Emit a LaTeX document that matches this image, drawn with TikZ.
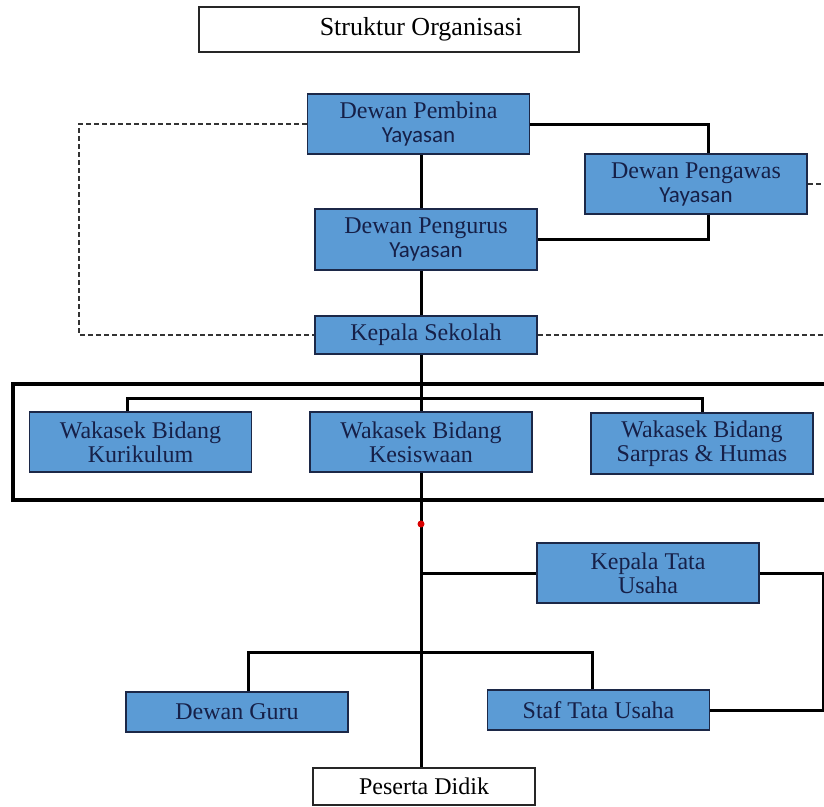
\documentclass[tikz,border=0pt]{standalone}
\usepackage{fontspec}
\setmainfont{Liberation Serif}
\newfontfamily\yayfont{Carlito}
\usetikzlibrary{positioning}
\definecolor{boxblue}{RGB}{91,155,213}
\definecolor{boxline}{RGB}{28,40,72}
\definecolor{boxtext}{RGB}{22,32,72}

\begin{document}
\begin{tikzpicture}
[x=1pt,y=-1pt,
  unitBox/.style={shape=rectangle,draw=boxline,fill=boxblue,line width=1.6pt,text=boxtext,
    align=center,inner sep=0pt,minimum width=222pt,font=\fontsize{24}{24}\selectfont},
  plainBox/.style={unitBox,fill=white,draw=black!85,text=black},
  lineLink/.style={-,line width=3pt},
  dashLink/.style={-,line width=1.5pt,draw=black!80,dash pattern=on 5pt off 3pt},
  frameBox/.style={draw=black,line width=3.2pt},
  redDot/.style={shape=circle,fill=red!85!black,inner sep=0pt,minimum size=7pt}]
\useasboundingbox (0,0) rectangle (824,806);
%% group frame round the wakasek
\draw[frameBox] (13,384) rectangle (840,500);
%% title and end box
\node (judul) at (389,29.5) [plainBox,minimum width=380pt,minimum height=45pt,
  font=\fontsize{26}{26}\selectfont] {\hspace*{64pt}Struktur Organisasi};
\node (peserta) at (424,786.5) [plainBox,minimum height=37pt] {Peserta Didik};
%% units
\foreach \nodename/\x/\y/\h/\txt in {
  pembina/418.5/124/60/{Dewan Pembina\\{\yayfont\fontsize{23}{24}\selectfont Yayasan}},
  pengawas/696/184/60/{Dewan Pengawas\\{\yayfont\fontsize{23}{24}\selectfont Yayasan}},
  pengurus/426/239.5/61/{Dewan Pengurus\\{\yayfont\fontsize{23}{24}\selectfont Yayasan}},
  kepsek/426/335/38/{Kepala Sekolah},
  kurikulum/140.5/442/60/{Wakasek Bidang\\Kurikulum},
  kesiswaan/421/442/60/{Wakasek Bidang\\Kesiswaan},
  sarpras/702/443.5/61/{Wakasek Bidang\\Sarpras \& Humas},
  kepalatu/648/573/60/{Kepala Tata\\Usaha},
  guru/237/712/40/{Dewan Guru},
  staftu/598.5/710/40/{Staf Tata Usaha}}
{
  \node (\nodename) at (\x,\y) [unitBox,minimum height=\h pt] {\txt};
}
%% helper points
\coordinate (spine) at (421,0);
\coordinate (rightEdge) at (824,0);
\coordinate (dashCorner) at (79,335);
\coordinate (wakasekBar) at (421,398);
\coordinate (stafBar) at (421,652);
\coordinate (tuCorner) at (823,640);
%% solid links
\draw[lineLink] (pembina.south -| spine) -- (pengurus.north -| spine);
\draw[lineLink] (pengurus.south -| spine) -- (kepsek.north -| spine);
\draw[lineLink] (kepsek.south -| spine) -- (kesiswaan.north -| spine);
\draw[lineLink] (kesiswaan.south -| spine) -- (peserta.north -| spine);
\draw[lineLink] (pembina.east) -| ([xshift=12pt]pengawas.north);
\draw[lineLink] ([xshift=12pt]pengawas.south) |- (pengurus.east);
\draw[lineLink] ([xshift=-13pt]kurikulum.north) |- (wakasekBar) -| (sarpras.north);
\draw[lineLink] (kepalatu.west) -- (kepalatu.west -| spine);
\draw[lineLink] ([xshift=11pt]guru.north) |- (stafBar) -| ([xshift=-6.5pt]staftu.north);
\draw[lineLink] (kepalatu.east) -| (tuCorner) |- (staftu.east);
%% dashed links
\draw[dashLink] (pembina.west) -| (dashCorner) -- (kepsek.west);
\draw[dashLink] (pengawas.east) -- (pengawas.east -| rightEdge);
\draw[dashLink] (kepsek.east) -- (kepsek.east -| rightEdge);
%% red mark on the spine
\node (titik) at (421,524) [redDot] {};
\end{tikzpicture}
\end{document}
